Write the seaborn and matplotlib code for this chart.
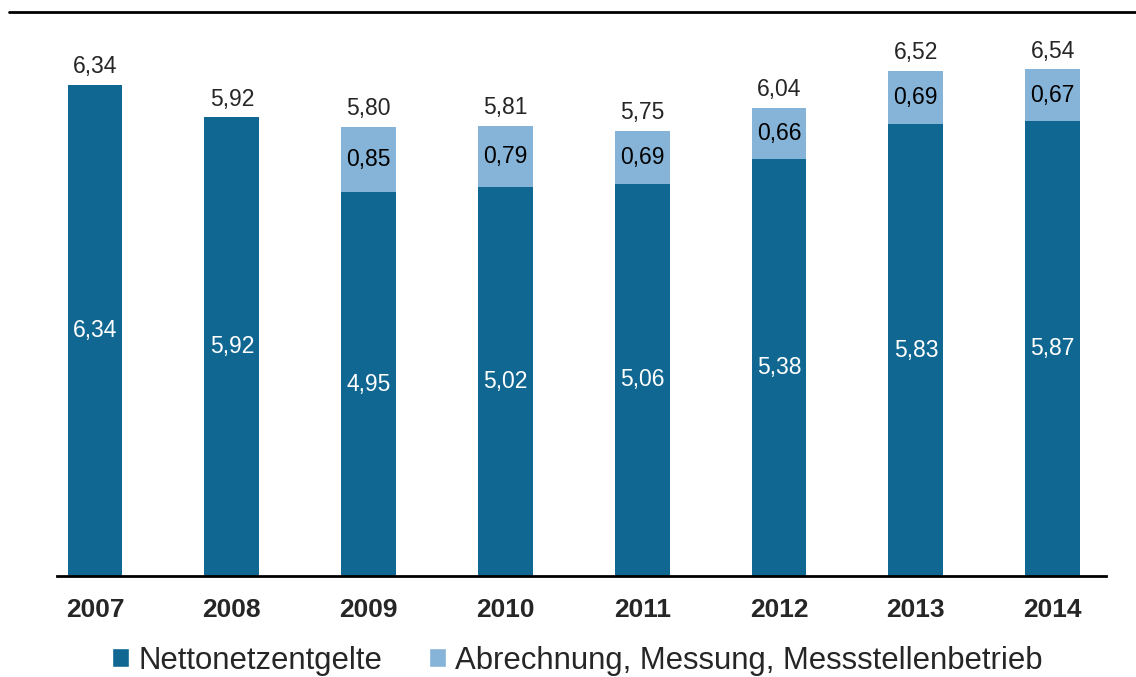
import numpy as np
import pandas as pd
import matplotlib.pyplot as plt
from matplotlib.lines import Line2D
from matplotlib.patches import Patch
import seaborn as sns

years = ['2007', '2008', '2009', '2010', '2011', '2012', '2013', '2014']
netto = [6.34, 5.92, 4.95, 5.02, 5.06, 5.38, 5.83, 5.87]
abrechnung = [np.nan, np.nan, 0.85, 0.79, 0.69, 0.66, 0.69, 0.67]
totals = [6.34, 5.92, 5.80, 5.81, 5.75, 6.04, 6.52, 6.54]

dark = '#106791'
light = '#86B4D8'


def fmt(v):
    return f"{v:.2f}".replace('.', ',')


sns.set_style('white')
plt.rcParams['font.family'] = ['Liberation Sans', 'DejaVu Sans']

df = pd.DataFrame({'year': years, 'netto': netto,
                   'abrechnung': abrechnung, 'total': totals})
df['stack'] = df['netto'] + df['abrechnung'].fillna(0)

fig = plt.figure(figsize=(11.36, 6.77), dpi=100)
ax = fig.add_axes([0.0502, 0.1492, 0.9234, 0.8331])

# light bars = full stack, dark bars drawn over them
sns.barplot(data=df, x='year', y='stack', color=light, width=0.4,
            saturation=1, linewidth=0, ax=ax)
sns.barplot(data=df, x='year', y='netto', color=dark, width=0.4,
            saturation=1, linewidth=0, ax=ax)

ax.set_xlim(-0.278, 7.39)
ax.set_ylim(0, 7.28)
ax.set_xlabel('')
ax.set_ylabel('')
ax.set_yticks([])
sns.despine(ax=ax, left=True, top=True, right=True)
ax.spines['bottom'].set_linewidth(2)
ax.spines['bottom'].set_color('black')
ax.tick_params(axis='x', length=0, pad=15.5)
for lab in ax.get_xticklabels():
    lab.set_fontsize(19)
    lab.set_fontweight('bold')

for i, row in df.iterrows():
    ax.text(i, row['netto'] / 2, fmt(row['netto']), ha='center',
            va='center', color='white', fontsize=16.5)
    if not np.isnan(row['abrechnung']):
        ax.text(i, row['netto'] + row['abrechnung'] / 2,
                fmt(row['abrechnung']), ha='center', va='center',
                color='black', fontsize=16.5)
    ax.annotate(fmt(row['total']), (i, row['stack']), xytext=(0, 13),
                textcoords='offset points', ha='center', va='center',
                fontsize=16.5)

# rule across the top of the figure
fig.add_artist(Line2D([0.008, 1.0], [0.9823, 0.9823], color='black',
                      linewidth=2, transform=fig.transFigure))

handles = [Patch(facecolor=dark), Patch(facecolor=light)]
fig.legend(handles, ['Nettonetzentgelte',
                     'Abrechnung, Messung, Messstellenbetrieb'],
           loc='center', bbox_to_anchor=(0.508, 0.024), ncol=2,
           frameon=False, fontsize=22.4, handlelength=0.55,
           handleheight=0.55, handletextpad=0.3, columnspacing=1.5,
           borderaxespad=0, borderpad=0)

fig.savefig('out.png', dpi=100)
